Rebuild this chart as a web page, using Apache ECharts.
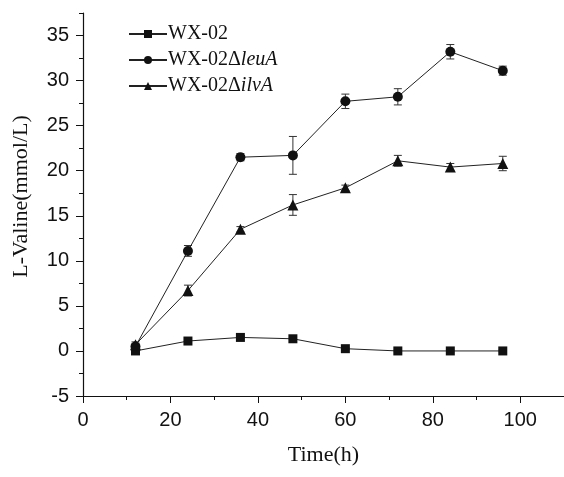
<!DOCTYPE html>
<html>
<head>
<meta charset="utf-8">
<script src="https://cdn.jsdelivr.net/npm/echarts@6/dist/echarts.min.js"></script>
<style>
  html, body { margin: 0; padding: 0; background: #fff; }
  #chart { width: 564px; height: 477px; }
</style>
</head>
<body>
<div id="chart"></div>
<script>
// sampling times (h)
const times = [12, 24, 36, 48, 60, 72, 84, 96];

// L-Valine (mmol/L) per strain
const wx02 = [0, 1.1, 1.5, 1.35, 0.25, 0, 0, 0];
const leuA = [0.5, 11.1, 21.5, 21.7, 27.7, 28.2, 33.2, 31.1];
const ilvA = [0.7, 6.7, 13.5, 16.2, 18.1, 21.1, 20.4, 20.8];

// standard deviations
const wx02Err = [0.1, 0.1, 0.1, 0.1, 0.1, 0.1, 0.1, 0.1];
const leuAErr = [0.3, 0.6, 0.4, 2.1, 0.8, 0.9, 0.8, 0.5];
const ilvAErr = [0.3, 0.6, 0.3, 1.15, 0.3, 0.6, 0.4, 0.8];

// axis ticks
const xLabels = [0, 20, 40, 60, 80, 100];
const xMinor = [10, 30, 50, 70, 90];
const yLabels = [-5, 0, 5, 10, 15, 20, 25, 30, 35];
const yMinor = [-2.5, 2.5, 7.5, 12.5, 17.5, 22.5, 27.5, 32.5, 37.5];

const INK = '#111';
const SANS = 'Liberation Sans, Arial, sans-serif';
const SERIF = 'Liberation Serif, Times New Roman, serif';

const chart = echarts.init(document.getElementById('chart'), null, { renderer: 'canvas' });

function pairs(vals) {
  return times.map((t, i) => [t, vals[i]]);
}

function errorSeries(vals, errs) {
  return {
    type: 'custom',
    silent: true,
    z: 1,
    data: times.map((t, i) => [t, vals[i], errs[i]]),
    renderItem(params, api) {
      const x = api.value(0), v = api.value(1), e = api.value(2);
      const top = api.coord([x, v + e]);
      const bot = api.coord([x, v - e]);
      const cap = 4;
      const style = { stroke: '#333', lineWidth: 1 };
      return {
        type: 'group',
        children: [
          { type: 'line', shape: { x1: top[0], y1: top[1], x2: bot[0], y2: bot[1] }, style },
          { type: 'line', shape: { x1: top[0] - cap, y1: top[1], x2: top[0] + cap, y2: top[1] }, style },
          { type: 'line', shape: { x1: bot[0] - cap, y1: bot[1], x2: bot[0] + cap, y2: bot[1] }, style }
        ]
      };
    }
  };
}

function lineSeries(name, vals, symbol, size) {
  return {
    name,
    type: 'line',
    z: 3,
    data: pairs(vals),
    symbol,
    symbolSize: size,
    showAllSymbol: true,
    lineStyle: { color: '#222', width: 1 },
    itemStyle: { color: INK, borderWidth: 0 },
    emphasis: { disabled: true }
  };
}

const baseAxis = {
  type: 'value',
  axisLine: { show: true, onZero: false, lineStyle: { color: INK, width: 1.2 } },
  splitLine: { show: false }
};

const option = {
  animation: false,
  backgroundColor: '#fff',
  grid: { left: 83, right: 0, top: 13, bottom: 81, containLabel: false },
  legend: {
    orient: 'vertical',
    left: 123,
    top: 18,
    itemWidth: 38,
    itemHeight: 10,
    itemGap: 4,
    data: ['WX-02', 'leuA', 'ilvA'],
    formatter(name) {
      if (name === 'WX-02') return '{n|WX-02}';
      return '{n|WX-02Δ}{i|' + name + '}';
    },
    textStyle: {
      color: INK,
      fontFamily: SERIF,
      fontSize: 20,
      lineHeight: 22,
      padding: [0, 0, 0, -4],
      rich: {
        n: { fontFamily: SERIF, fontSize: 20, color: INK },
        i: { fontFamily: SERIF, fontSize: 20, color: INK, fontStyle: 'italic' }
      }
    }
  },
  xAxis: [
    Object.assign({}, baseAxis, {
      min: 0, max: 110, interval: 10,
      name: 'Time(h)',
      nameLocation: 'middle',
      nameGap: 48,
      nameTextStyle: { fontFamily: SERIF, fontSize: 22, color: INK },
      axisTick: { show: true, length: 7, customValues: xLabels, lineStyle: { color: INK } },
      axisLabel: { customValues: xLabels, fontFamily: SANS, fontSize: 20, color: INK, margin: 14 }
    }),
    Object.assign({}, baseAxis, {
      min: 0, max: 110, interval: 10,
      position: 'bottom',
      axisLine: { show: false, onZero: false },
      axisTick: { show: true, length: 4, customValues: xMinor, lineStyle: { color: INK } },
      axisLabel: { show: false }
    })
  ],
  yAxis: [
    Object.assign({}, baseAxis, {
      min: -5, max: 37.5, interval: 2.5,
      name: 'L-Valine(mmol/L)',
      nameLocation: 'middle',
      nameGap: 51,
      nameTextStyle: { fontFamily: SERIF, fontSize: 22, color: INK, padding: [0, 0, 0, 16] },
      axisTick: { show: true, length: 7, customValues: yLabels, lineStyle: { color: INK } },
      axisLabel: { customValues: yLabels, fontFamily: SANS, fontSize: 20, color: INK, margin: 14 }
    }),
    Object.assign({}, baseAxis, {
      min: -5, max: 37.5, interval: 2.5,
      position: 'left',
      axisLine: { show: false, onZero: false },
      axisTick: { show: true, length: 4, customValues: yMinor, lineStyle: { color: INK } },
      axisLabel: { show: false }
    })
  ],
  series: [
    errorSeries(wx02, wx02Err),
    errorSeries(leuA, leuAErr),
    errorSeries(ilvA, ilvAErr),
    lineSeries('WX-02', wx02, 'rect', 9),
    lineSeries('leuA', leuA, 'circle', 10),
    lineSeries('ilvA', ilvA, 'triangle', 11)
  ]
};

chart.setOption(option);
</script>
</body>
</html>
